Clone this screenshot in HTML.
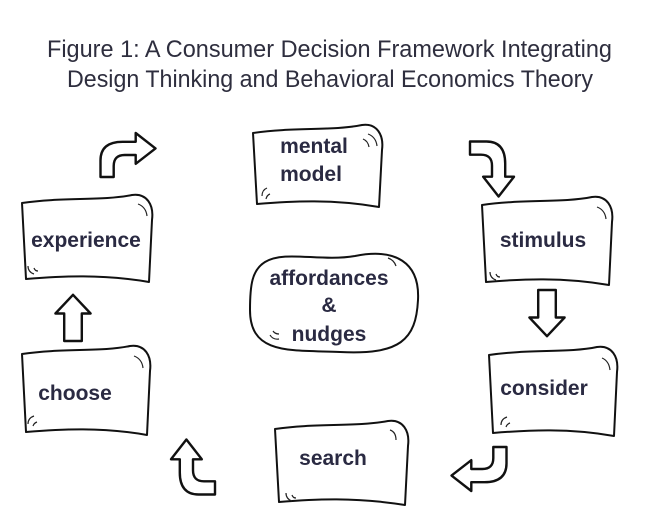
<!DOCTYPE html>
<html><head><meta charset="utf-8"><style>
html,body{margin:0;padding:0;background:#fff;}
svg{display:block}
.t{font-family:"Liberation Sans",sans-serif;fill:#2e2e3e;font-size:24px}
.b{font-family:"Liberation Sans",sans-serif;font-weight:bold;fill:#2a2a42;font-size:21px;text-anchor:middle}
.bx{fill:#fff;stroke:#111;stroke-width:2;stroke-linejoin:round}
.ar{fill:#fff;stroke:#111;stroke-width:2.2;stroke-linejoin:round}
.c{fill:none;stroke:#222;stroke-width:1.2}
</style></head><body>
<svg width="650" height="520" viewBox="0 0 650 520">
<text class="t" x="47" y="57" textLength="565" lengthAdjust="spacingAndGlyphs">Figure 1: A Consumer Decision Framework Integrating</text>
<text class="t" x="67" y="87" textLength="526" lengthAdjust="spacingAndGlyphs">Design Thinking and Behavioral Economics Theory</text>

<defs>
<path id="bent" d="M0,40 L0,25 Q0,8 20,8 L32,8 L32,0 L50,14 L32,28 L32,20 L22,20 Q12,20 12,30 L12,40 Z"/>
<path id="str" d="M-8,0 L8,0 L8,25 L16,25 L0,42 L-16,25 L-8,25 Z"/>
</defs>

<!-- boxes -->
<path class="bx" d="M253,133 C293,127 333,131 362,125 C377,123 384,135 382,150 L379,207 C333,199 293,201 257,204 Z"/>
<path class="bx" d="M22,203 C62,197 102,201 132,195 C147,193 154,205 152,220 L149,282 C102,274 62,276 26,279 Z"/>
<path class="bx" d="M482,205 C522,199 562,203 592,197 C607,195 614,207 612,222 L609,285 C562,277 522,279 486,282 Z"/>
<path class="bx" d="M22,354 C62,348 102,352 130,346 C145,344 152,356 150,371 L147,435 C102,427 62,429 26,432 Z"/>
<path class="bx" d="M489,355 C529,349 569,353 597,347 C612,345 619,357 617,372 L614,436 C569,428 529,430 493,433 Z"/>
<path class="bx" d="M275,429 C315,423 355,427 388,421 C403,419 410,431 408,446 L405,505 C355,497 315,499 279,502 Z"/>
<path class="bx" d="M265,262 C285,250 320,262 355,256 C395,248 420,262 418,300 C416,340 400,355 340,352 C290,350 250,355 250,310 C250,285 252,270 265,262 Z"/>

<!-- corner curls -->
<path class="c" d="M368,134 q8,3 9,12 M363,139 q5,2 6,8 M262,196 q0,-6 5,-8 M266,199 q1,-4 4,-5"/>
<path class="c" d="M138,204 q8,3 9,12 M28,266 q0,6 6,8 M34,268 q1,3 4,3"/>
<path class="c" d="M597,207 q8,3 9,12 M490,272 q0,6 6,8 M496,274 q1,3 4,3"/>
<path class="c" d="M134,356 q8,3 9,12 M28,424 q0,-6 6,-8 M33,426 q1,-3 4,-4"/>
<path class="c" d="M602,358 q7,3 8,12 M501,425 q0,-6 6,-8 M506,427 q1,-3 4,-4"/>
<path class="c" d="M390,430 q6,2 6,10 M286,493 q0,6 6,8 M292,495 q1,3 4,3"/>
<path class="c" d="M388,258 q6,2 8,8 M270,335 q3,5 9,4 M273,331 q2,3 6,3"/>

<!-- labels -->
<text class="b" x="314" y="153">mental</text>
<text class="b" x="311" y="181">model</text>
<text class="b" x="86" y="247">experience</text>
<text class="b" x="543" y="247">stimulus</text>
<text class="b" x="75" y="400">choose</text>
<text class="b" x="544" y="395">consider</text>
<text class="b" x="333" y="465">search</text>
<text class="b" x="329" y="285">affordances</text>
<text class="b" x="329" y="312">&amp;</text>
<text class="b" x="329" y="341">nudges</text>

<!-- arrows -->
<use href="#bent" class="ar" transform="translate(128,155) scale(1.1) translate(-25,-20)"/>
<use href="#bent" class="ar" transform="translate(492,169) rotate(90) scale(1.1) translate(-25,-20)"/>
<use href="#bent" class="ar" transform="translate(479,469) rotate(180) scale(1.1) translate(-25,-20)"/>
<use href="#bent" class="ar" transform="translate(193,467) rotate(-90) scale(1.1) translate(-25,-20)"/>
<use href="#str" class="ar" transform="translate(547,290) scale(1.1)"/>
<use href="#str" class="ar" transform="translate(73,341) rotate(180) scale(1.1)"/>
</svg>
</body></html>
